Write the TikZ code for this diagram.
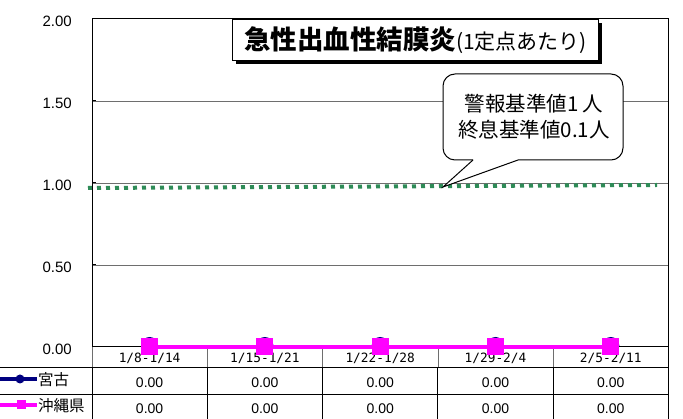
\documentclass[tikz,border=0pt]{standalone}
\usepackage{fontspec}
\setmainfont{Liberation Sans}
\newfontfamily\jp{Noto Sans CJK JP}
\newfontfamily\monofam{DejaVu Sans Mono}
\definecolor{navyc}{RGB}{0,0,128}
\definecolor{magc}{RGB}{255,0,255}
\definecolor{greenc}{RGB}{46,139,87}
\definecolor{gridc}{RGB}{110,110,110}
\begin{document}
\begin{tikzpicture}[x=1pt,y=-1pt,
  gridline/.style={draw=gridc, line width=0.9pt},
  frameline/.style={draw=black, line width=1pt},
  headdiv/.style={draw=gridc, line width=0.8pt},
  ylab/.style={anchor=east, inner sep=0, font=\fontsize{15}{15}\selectfont},
  catlab/.style={inner sep=0, font=\monofam\fontsize{12.8}{12.8}\selectfont},
  val/.style={inner sep=0, font=\fontsize{14}{14}\selectfont},
  legtext/.style={anchor=west, inner sep=0, font=\jp\fontsize{15.5}{15.5}\selectfont},
  sqmark/.style={fill=magc, minimum size=17pt, inner sep=0, outer sep=0},
  circmark/.style={circle, fill=navyc, minimum size=17pt, inner sep=0, outer sep=0},
  sqleg/.style={fill=magc, minimum size=9pt, inner sep=0, outer sep=0},
  circleg/.style={circle, fill=navyc, minimum size=9pt, inner sep=0, outer sep=0},
  thresh/.style={draw=greenc, line width=4pt, dash pattern=on 4pt off 5pt},
  series/.style={line width=4.5pt}
]
\useasboundingbox[fill=white] (0,0) rectangle (683,419);

% plot frame coordinates
\coordinate (pTL) at (92,19);
\coordinate (pTR) at (668,19);
\coordinate (pBL) at (92,347);
\coordinate (pBR) at (668,347);
\coordinate (tBR) at (668,419);

% gridlines
\coordinate (g15a) at (92,101);  \coordinate (g15b) at (668,101);
\coordinate (g10a) at (92,183);  \coordinate (g10b) at (668,183);
\coordinate (g05a) at (92,265);  \coordinate (g05b) at (668,265);
\draw[gridline] (g15a) -- (g15b);
\draw[gridline] (g10a) -- (g10b);
\draw[gridline] (g05a) -- (g05b);

% y labels
\node[ylab] (y200) at (72,21) {2.00};
\node[ylab] (y150) at (72,103) {1.50};
\node[ylab] (y100) at (72,185) {1.00};
\node[ylab] (y050) at (72,267) {0.50};
\node[ylab] (y000) at (72,349) {0.00};

% threshold dotted line
\coordinate (th1) at (88,188);
\coordinate (th2) at (657,185);
\draw[thresh] (th1) -- (th2);

% table lines
\coordinate (r1a) at (0,368); \coordinate (r1b) at (668,368);
\coordinate (r2a) at (0,395); \coordinate (r2b) at (668,395);
\coordinate (lb) at (92,419);
\draw[headdiv] (pBL) -- (92,368);
\foreach \x in {207.3,322.6,437.9,553.2}{
  \draw[headdiv] (\x,347) -- (\x,368);
  \draw[frameline] (\x,368) -- (\x,419);
}
\draw[frameline] (92,368) -- (lb);
\draw[frameline] (r1a) -- (r1b);
\draw[frameline] (r2a) -- (r2b);

% frame
\draw[frameline] (pBL) -- (pTL) -- (pTR) -- (tBR);
\draw[frameline] (pBL) -- (pBR);
\foreach \yy in {19,101,183,265,347}{ \draw[frameline] (92,\yy) -- (96,\yy); }

% category labels and values
\foreach \i/\x/\lab in {1/149.6/{1/8-1/14},2/264.9/{1/15-1/21},3/380.2/{1/22-1/28},4/495.5/{1/29-2/4},5/610.8/{2/5-2/11}}{
  \node[catlab] (cat\i) at (\x,358.5) {\lab};
  \node[val] (va\i) at (\x,382.5) {0.00};
  \node[val] (vb\i) at (\x,409) {0.00};
}

% series
\foreach \i/\x in {1/149.6,2/264.9,3/380.2,4/495.5,5/610.8}{
  \coordinate (c\i) at (\x,347);
}
\draw[navyc, series] (c1) -- (c2) -- (c3) -- (c4) -- (c5);
\foreach \i/\x in {1/149.6,2/264.9,3/380.2,4/495.5,5/610.8}{
  \node[circmark] (n\i) at (\x,345.5) {};
}
\draw[magc, series] (c1) -- (c2) -- (c3) -- (c4) -- (c5);
\foreach \i in {1,...,5}{
  \node[sqmark] (m\i) at (c\i) {};
}

% legend
\coordinate (la1) at (0,379); \coordinate (lb1) at (37,379);
\coordinate (la2) at (0,405); \coordinate (lb2) at (37,405);
\draw[navyc, line width=4pt] (la1) -- (lb1);
\node[circleg] (lgc) at (20,379) {};
\draw[magc, line width=4pt] (la2) -- (lb2);
\node[sqleg] (lgs) at (21,405) {};
\node[legtext] (leg1) at (38,380) {宮古};
\node[legtext] (leg2) at (38,406) {沖縄県};

% callout
\coordinate (coTL) at (443,74);
\coordinate (coBR) at (623,160);
\coordinate (cpL) at (473,160);
\coordinate (cpR) at (518,160);
\coordinate (cpT) at (443,187);
\fill[white, rounded corners=12pt] (coTL) rectangle (coBR);
\fill[white] (473,156) -- (cpL) -- (cpT) -- (cpR) -- (518,156) -- cycle;
\draw[line width=1pt, rounded corners=12pt] (cpL) -- (443,160) -- (coTL) -- (623,74) -- (coBR) -- (cpR);
\draw[line width=1pt, line join=miter] (cpR) -- (cpT) -- (cpL);
\node[inner sep=0, align=center, font=\jp\fontsize{20.5}{26}\selectfont] (callout) at (534,116.5) {警報基準値1 人\\終息基準値0.1人};

% title
\coordinate (tsh1) at (236,23);
\coordinate (tsh2) at (602,64);
\fill[black] (tsh1) rectangle (tsh2);
\node[draw, line width=1pt, fill=white, anchor=north west, minimum width=366pt, minimum height=41pt, inner sep=0] (title) at (232,19)
  {{\jp\bfseries\fontsize{26.5}{26.5}\selectfont 急性出血性結膜炎}{\jp\fontsize{21}{21}\selectfont (1定点あたり)}};
\end{tikzpicture}
\end{document}
